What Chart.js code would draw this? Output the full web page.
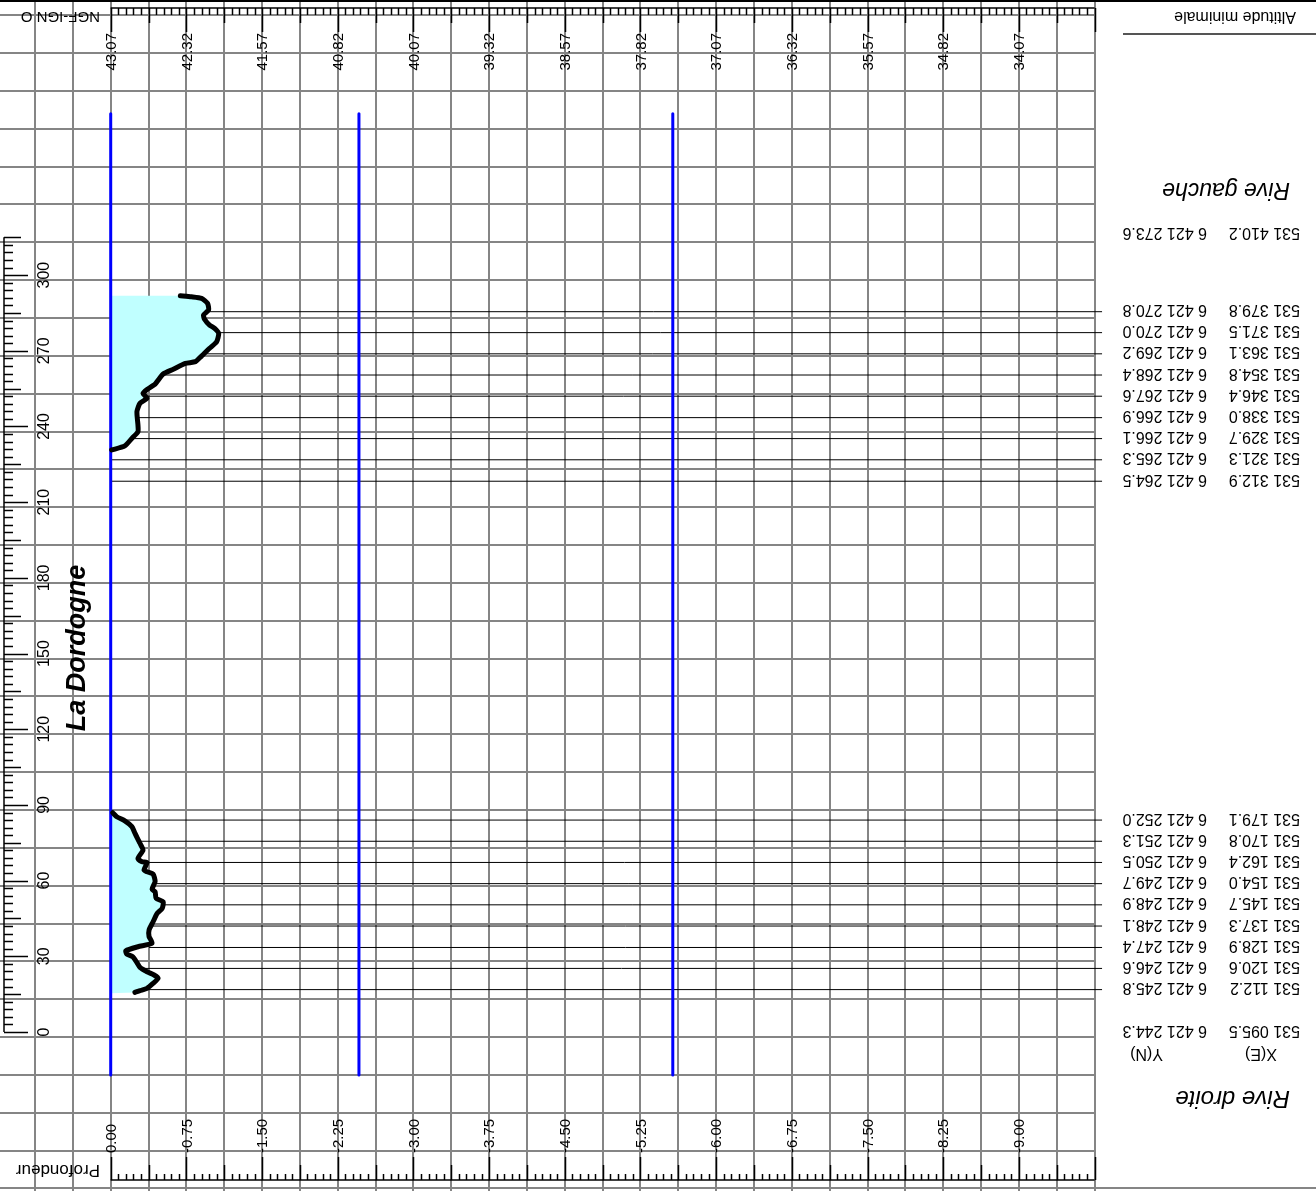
<!DOCTYPE html>
<html>
<head>
<meta charset="utf-8">
<script src="https://cdn.jsdelivr.net/npm/chart.js@4.4.1/dist/chart.umd.min.js"></script>
<style>
  html, body { margin: 0; padding: 0; background: #fff; }
  canvas { display: block; }
</style>
</head>
<body>
<canvas id="chart" width="1316" height="1191"></canvas>
<script>
// bed profile: depth (m) against distance along the section (m)
const upperDepth = [0.01, 0.14, 0.21, 0.27, 0.27, 0.26, 0.29, 0.36, 0.32, 0.36, 0.44, 0.52, 0.62, 0.74, 0.84, 0.90, 0.98, 1.05, 1.07, 1.03, 0.98, 0.93, 0.92, 0.97, 0.96, 0.90, 0.80, 0.69];
const upperDist = [230.7, 232.3, 235.3, 237.9, 240.6, 245.9, 249.2, 251.2, 253.1, 254.7, 256.8, 260.8, 262.7, 265.0, 265.7, 267.9, 271.0, 273.6, 276.9, 278.9, 280.2, 282.5, 284.2, 286.2, 288.8, 290.8, 291.4, 291.8];
const lowerDepth = [0.02, 0.06, 0.14, 0.21, 0.24, 0.29, 0.32, 0.27, 0.31, 0.36, 0.33, 0.36, 0.42, 0.44, 0.41, 0.44, 0.45, 0.52, 0.51, 0.46, 0.42, 0.38, 0.38, 0.41, 0.27, 0.15, 0.16, 0.22, 0.26, 0.29, 0.36, 0.43, 0.47, 0.42, 0.36, 0.29, 0.24];
const lowerDist = [86.9, 85.3, 83.7, 81.4, 78.8, 74.8, 72.1, 68.8, 67.5, 67.1, 64.2, 63.5, 62.6, 59.6, 56.6, 55.6, 53.0, 51.6, 49.0, 47.0, 43.7, 40.4, 37.8, 35.2, 33.8, 32.2, 30.9, 29.8, 27.5, 25.6, 23.9, 22.6, 21.3, 19.3, 17.3, 16.4, 15.7];

// water levels
const levelDepth = [0, 2.46, 5.57];
const levelFrom = -17;
const levelTo = 364;

// surveyed points
const pointDist = [0, 16.8, 25.2, 33.5, 42.0, 50.4, 58.8, 67.2, 75.6, 84.0, 218.3, 226.8, 235.2, 243.5, 252.0, 260.4, 268.8, 277.2, 285.5, 316.1];
const pointStart = [null, 0.33, 0.30, 0.38, 0.38, 0.51, 0.43, 0.36, 0.29, 0.13, 0, 0, 0.21, 0.27, 0.34, 0.51, 0.92, 1.07, 0.94, null];
const lineEnd = 9.82;
const eastings = ['531 095.5', '531 112.2', '531 120.6', '531 128.9', '531 137.3', '531 145.7', '531 154.0', '531 162.4', '531 170.8', '531 179.1',
  '531 312.9', '531 321.3', '531 329.7', '531 338.0', '531 346.4', '531 354.8', '531 363.1', '531 371.5', '531 379.8', '531 410.2'];
const northings = ['6 421 244.3', '6 421 245.8', '6 421 246.6', '6 421 247.4', '6 421 248.1', '6 421 248.9', '6 421 249.7', '6 421 250.5', '6 421 251.3', '6 421 252.0',
  '6 421 264.5', '6 421 265.3', '6 421 266.1', '6 421 266.9', '6 421 267.6', '6 421 268.4', '6 421 269.2', '6 421 270.0', '6 421 270.8', '6 421 273.6'];

// axes
const depthTicks = [0, 0.75, 1.5, 2.25, 3, 3.75, 4.5, 5.25, 6, 6.75, 7.5, 8.25, 9];
const altitudeLabels = ['43.07', '42.32', '41.57', '40.82', '40.07', '39.32', '38.57', '37.82', '37.07', '36.32', '35.57', '34.82', '34.07'];
const depthLabels = ['0.00', '-0.75', '-1.50', '-2.25', '-3.00', '-3.75', '-4.50', '-5.25', '-6.00', '-6.75', '-7.50', '-8.25', '-9.00'];
const distTicks = [0, 30, 60, 90, 120, 150, 180, 210, 240, 270, 300];

const toPoints = (xs, ys) => xs.map((v, i) => ({ x: v, y: ys[i] }));

const upperPts = toPoints(upperDepth, upperDist);
const lowerPts = toPoints(lowerDepth, lowerDist);

const datasets = [
  { data: upperPts, borderColor: '#000', borderWidth: 5, tension: 0.2, order: 1 },
  { data: lowerPts, borderColor: '#000', borderWidth: 5, tension: 0.2, order: 1 },
  ...levelDepth.map(d => ({
    data: [{ x: d, y: levelFrom }, { x: d, y: levelTo }],
    borderColor: '#0000ff', borderWidth: 3, order: 2
  })),
  ...pointDist.map((d, i) => pointStart[i] === null ? null : ({
    data: [{ x: pointStart[i], y: d }, { x: lineEnd, y: d }],
    borderColor: '#000', borderWidth: 1, order: 3, clip: false
  })).filter(Boolean),
  {
    data: [...upperPts, { x: 0, y: upperDist[upperDist.length - 1] }, { x: 0, y: upperDist[0] }],
    borderWidth: 0, backgroundColor: 'rgb(192,255,255)', fill: 'shape', order: 4
  },
  {
    data: [...lowerPts, { x: 0, y: 15.4 }, { x: 0, y: lowerDist[0] }],
    borderWidth: 0, backgroundColor: 'rgb(192,255,255)', fill: 'shape', order: 4
  }
];
datasets.forEach(ds => {
  ds.pointRadius = 0;
  ds.borderJoinStyle = 'round';
  ds.borderCapStyle = 'round';
});

function seg(ctx, x1, y1, x2, y2) {
  ctx.beginPath();
  ctx.moveTo(x1, y1);
  ctx.lineTo(x2, y2);
  ctx.stroke();
}

function text(ctx, s, px, py, angle, font, align) {
  ctx.save();
  ctx.translate(px, py);
  ctx.rotate(angle);
  ctx.font = font;
  ctx.textAlign = align;
  ctx.textBaseline = 'middle';
  ctx.fillStyle = '#000';
  ctx.fillText(s, 0, 0);
  ctx.restore();
}

const gridPlugin = {
  id: 'grid',
  beforeDatasetsDraw(chart) {
    const { ctx, scales: { x, y } } = chart;
    ctx.save();
    ctx.strokeStyle = '#858585';
    ctx.lineWidth = 2;
    for (let i = -2; i <= 26; i++) {
      const px = Math.round(x.getPixelForValue(i * 0.375));
      seg(ctx, px, 0, px, chart.height);
    }
    for (let k = -4; k <= 27; k++) {
      const py = Math.round(y.getPixelForValue(-2 + 15 * k));
      seg(ctx, 0, py, k === -4 ? chart.width : x.right, py);
    }
    ctx.restore();
  }
};

const axesPlugin = {
  id: 'axes',
  afterDatasetsDraw(chart) {
    const { ctx, scales: { x, y } } = chart;
    const num = '15px "Liberation Sans", Arial';
    const coord = '16px "Liberation Sans", Arial';
    ctx.save();
    ctx.strokeStyle = '#000';

    // top border
    ctx.lineWidth = 2;
    seg(ctx, 0, 1, chart.width, 1);
    ctx.lineWidth = 1.5;

    // altitude band (top) and depth band (bottom)
    const x0 = x.getPixelForValue(0), x1 = x.getPixelForValue(9.75);
    seg(ctx, x0, 8, x1, 8);
    seg(ctx, x0, 1180, x1, 1180);
    for (let i = 0; i <= 130; i++) {
      const px = Math.round(x.getPixelForValue(i * 0.075)) + 0.5;
      const top = i % 10 === 0 ? 24 : i % 5 === 0 ? 15 : 7;
      const bot = i % 10 === 0 ? 23 : i % 5 === 0 ? 15 : 6;
      seg(ctx, px, 8, px, 8 + top);
      seg(ctx, px, 1180, px, 1180 - bot);
    }
    depthTicks.forEach((d, i) => {
      const px = x.getPixelForValue(d);
      text(ctx, altitudeLabels[i], px + 1, 33, -Math.PI / 2, num, 'right');
      text(ctx, depthLabels[i], px + 1, 1153, -Math.PI / 2, num, 'left');
    });

    // distance axis (left)
    seg(ctx, 4, y.getPixelForValue(0), 4, y.getPixelForValue(315));
    for (let v = 0; v <= 315; v += 3) {
      const py = Math.round(y.getPixelForValue(v)) + 0.5;
      const len = v % 30 === 0 ? 24 : v % 15 === 0 ? 17 : 9;
      seg(ctx, 4, py, 4 + len, py);
    }
    distTicks.forEach(v => {
      text(ctx, String(v), 45, y.getPixelForValue(v), -Math.PI / 2, '16px "Liberation Sans", Arial', 'center');
    });

    text(ctx, 'La Dordogne', 78, 648, -Math.PI / 2, 'italic bold 27px "Liberation Sans", Arial', 'center');

    // upside-down captions
    const flip = Math.PI;
    text(ctx, 'NGF-IGN O', 100, 16, flip, '15px "Liberation Sans", Arial', 'left');
    text(ctx, 'Profondeur', 100, 1170, flip, '17px "Liberation Sans", Arial', 'left');
    text(ctx, 'Altitude minimale', 1296, 16, flip, '16px "Liberation Sans", Arial', 'left');
    ctx.strokeStyle = '#555';
    ctx.lineWidth = 2;
    seg(ctx, 1123, 34, chart.width, 34);
    text(ctx, 'Rive gauche', 1290, 189, flip, 'italic 23px "Liberation Sans", Arial', 'left');
    text(ctx, 'Rive droite', 1290, 1098, flip, 'italic 24px "Liberation Sans", Arial', 'left');
    text(ctx, 'X(E)', 1277, 1053, flip, coord, 'left');
    text(ctx, 'Y(N)', 1163, 1053, flip, coord, 'left');
    pointDist.forEach((d, i) => {
      const py = y.getPixelForValue(d) - 2;
      text(ctx, eastings[i], 1300, py, flip, coord, 'left');
      text(ctx, northings[i], 1207, py, flip, coord, 'left');
    });
    ctx.restore();
  }
};

new Chart(document.getElementById('chart'), {
  type: 'line',
  data: { datasets },
  options: {
    responsive: false,
    devicePixelRatio: 1,
    animation: false,
    layout: { padding: { left: 0, top: 0, right: 222, bottom: 0 } },
    scales: {
      x: { type: 'linear', min: -1.097, max: 9.744, display: false },
      y: { type: 'linear', min: -63.02, max: 409.04, display: false }
    },
    plugins: {
      legend: { display: false },
      tooltip: { enabled: false }
    }
  },
  plugins: [gridPlugin, axesPlugin]
});
</script>
</body>
</html>
